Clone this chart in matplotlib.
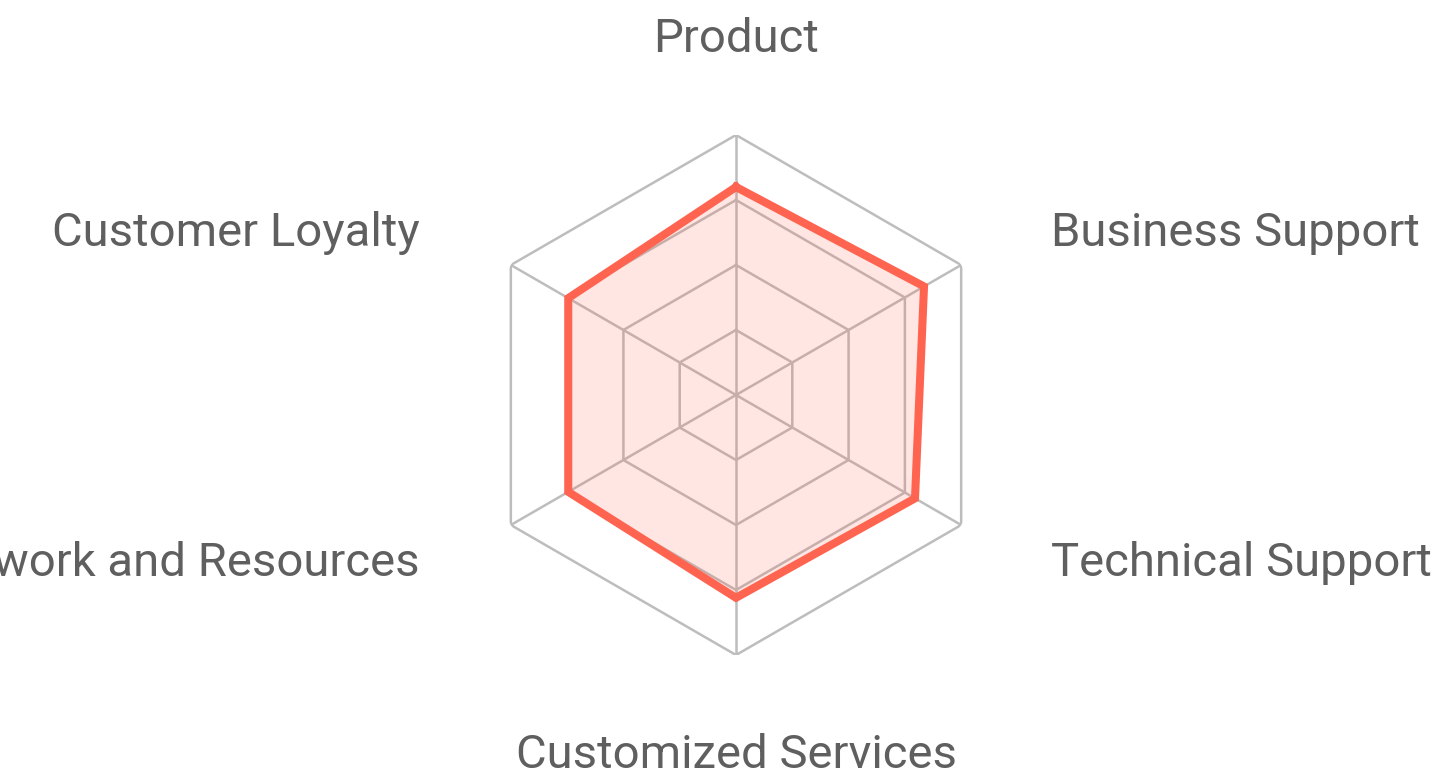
import numpy as np
import matplotlib
matplotlib.use("Agg")
import matplotlib.pyplot as plt

categories = ["Product", "Business Support", "Technical Support",
              "Customized Services", "Network and Resources", "Customer Loyalty"]
values = [80, 83.5, 79.5, 78, 74.5, 74.5]
rmax = 100
grid_levels = [25, 50, 75, 100]

plt.rcParams['font.family'] = ['Roboto', 'DejaVu Sans']

W, H, DPI = 1445, 778, 100
fig = plt.figure(figsize=(W / DPI, H / DPI), dpi=DPI)
cx, cy, R = 736, 395, 260
ax = fig.add_axes([(cx - R) / W, (H - cy - R) / H, 2 * R / W, 2 * R / H], projection='polar')
ax.set_theta_zero_location('N')
ax.set_theta_direction(-1)
ax.set_ylim(0, rmax)
ax.set_axis_off()

n = len(categories)
angles = np.linspace(0, 2 * np.pi, n, endpoint=False)
closed = np.concatenate([angles, angles[:1]])

grid_color = '#bdbdbd'
for lv in grid_levels:
    ax.plot(closed, [lv] * (n + 1), color=grid_color, lw=1.8, zorder=1)
for a in angles:
    ax.plot([a, a], [0, rmax], color=grid_color, lw=1.8, zorder=1)

vals = np.array(values + values[:1])
ax.fill(closed, vals, color='#ff6450', alpha=0.16, zorder=2, lw=0)
ax.plot(closed, vals, color='#ff6450', lw=5.8, zorder=3, solid_joinstyle='miter')

offsets = [(0, 83, 'center'), (90, 19, 'left'), (90, -51, 'left'),
           (0, -113, 'center'), (-91, -51, 'right'), (-91, 19, 'right')]
for a, lab, (dx, dy, ha) in zip(angles, categories, offsets):
    ax.annotate(lab, xy=(a, rmax), xytext=(dx, dy), textcoords='offset pixels',
                ha=ha, va='baseline', fontsize=34, color='#5f5f5f',
                annotation_clip=False)

fig.savefig('out.png', dpi=DPI)
